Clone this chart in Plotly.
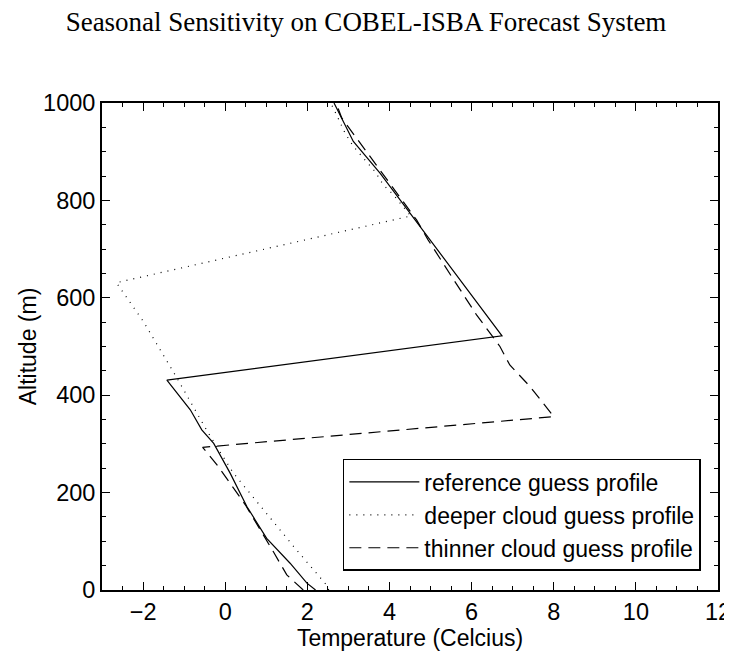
import plotly.graph_objects as go

# Reference guess profile (solid)
ref_temp = [2.2, 1.99, 1.58, 1.01, 0.53, 0.12, -0.28, -0.57, -0.85, -1.42, 6.74, 5.35, 3.77, 3.12, 2.67, 2.65]
ref_alt = [0, 14, 55, 106, 171, 240, 301, 329, 370, 431, 522, 678, 856, 921, 998, 1000]

# Deeper cloud guess profile (dotted)
deep_temp = [2.52, 2.47, 1.70, 0.93, 0.20, -0.41, -1.18, -1.99, -2.65, 4.52, 4.09, 3.85, 3.65, 3.12, 2.92, 2.67, 2.57]
deep_alt = [0, 10, 86, 164, 240, 322, 436, 551, 631, 768, 812, 832, 859, 911, 938, 983, 1000]

# Thinner cloud guess profile (dashed)
thin_temp = [1.9, 1.5, 1.17, 0.81, 0.49, 0.12, -0.2, -0.55, 8.0, 7.42, 6.93, 6.69, 6.12, 5.51, 4.94, 4.66, 3.48, 3.16, 2.84, 2.7]
thin_alt = [0, 31, 79, 130, 175, 219, 257, 293, 356, 418, 462, 500, 565, 644, 719, 760, 894, 931, 969, 1000]

series_names = ["reference guess profile", "deeper cloud guess profile", "thinner cloud guess profile"]
x_ticks = [-2, 0, 2, 4, 6, 8, 10, 12]
y_ticks = [0, 200, 400, 600, 800, 1000]

SANS = "Liberation Sans, Arial, Helvetica"

fig = go.Figure()
fig.add_trace(go.Scatter(x=ref_temp, y=ref_alt, mode="lines", name=series_names[0],
                         line=dict(color="black", width=1.2)))
fig.add_trace(go.Scatter(x=deep_temp, y=deep_alt, mode="lines", name=series_names[1],
                         line=dict(color="black", width=1.2, dash="1px,6px")))
fig.add_trace(go.Scatter(x=thin_temp, y=thin_alt, mode="lines", name=series_names[2],
                         line=dict(color="black", width=1.2, dash="12px,7px")))

axis_common = dict(
    showgrid=False, zeroline=False, showline=True, linecolor="black", linewidth=1.8,
    mirror="ticks", ticks="inside", ticklen=8, tickwidth=1.2, tickcolor="black",
    tickfont=dict(family=SANS, size=23.5, color="black"),
    minor=dict(ticks="inside", ticklen=4, tickwidth=1, tickcolor="black"),
    automargin=False,
)

fig.update_xaxes(range=[-3, 12], tickvals=x_ticks, ticktext=["\u22122" if v == -2 else str(v) for v in x_ticks],
                 minor_dtick=0.5,
                 title=dict(text="Temperature (Celcius)", font=dict(family=SANS, size=23, color="black"), standoff=4),
                 **axis_common)
fig.update_yaxes(range=[0, 1000], tickvals=y_ticks, minor_dtick=50,
                 title=dict(text="Altitude (m)", font=dict(family=SANS, size=23, color="black"), standoff=0),
                 **axis_common)

# The page adds an 8px body margin, so the figure is offset by 8px inside the window
W, H = 724, 643
fig.update_layout(
    width=W, height=H,
    margin=dict(l=94, r=13.5, t=95, b=61, autoexpand=False),
    paper_bgcolor="white", plot_bgcolor="white",
    title=dict(text="Seasonal Sensitivity on COBEL-ISBA Forecast System",
               font=dict(family="Liberation Serif, Times New Roman", size=27, color="black"),
               x=358 / W, xanchor="center", y=1 - 14 / H, yref="container", yanchor="middle", xref="container"),
    showlegend=True,
    legend=dict(x=0.391, y=0.269, xanchor="left", yanchor="top",
                bgcolor="white", bordercolor="black", borderwidth=1.5,
                font=dict(family=SANS, size=23, color="black"),
                itemwidth=70, tracegroupgap=0),
)

fig.write_html("out.html")
